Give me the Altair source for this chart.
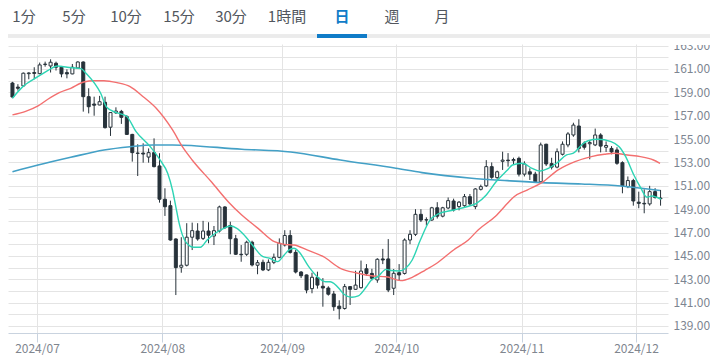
import altair as alt
import pandas as pd

# ---- daily candles (trading-day index 0 = 2024-06-24) ----
opens = [159.8,159.45,159.55,160.6,160.7,160.6,161.38,161.26,161.49,161.15,160.69,160.58,161.09,161.6,158.63,158.0,157.92,158.15,156.02,157.25,
         157.37,156.92,155.4,153.8,153.8,153.46,153.84,152.7,149.85,149.3,146.45,144.03,144.2,146.6,147.13,146.5,147.13,146.7,147.13,149.19,
         147.6,146.47,145.14,145.14,146.17,144.2,144.45,143.8,144.45,144.88,145.93,146.75,145.3,143.62,143.37,142.2,143.15,142.4,142.25,141.74,
         140.7,140.5,142.37,142.14,142.28,143.9,143.5,142.94,144.74,144.74,142.23,143.56,143.5,146.36,146.85,148.56,148.07,148.07,149.12,148.4,
         149.1,149.7,149.22,149.3,150.07,149.22,150.7,151.0,152.64,151.7,153.1,153.2,153.15,153.35,152.0,152.2,152.0,151.35,154.56,152.9,
         152.6,153.7,154.5,155.35,156.12,154.65,154.6,154.5,155.35,154.3,154.2,154.07,152.98,150.93,151.45,149.6,149.5,149.45,150.5,149.95]
highs = [159.9,159.7,160.7,160.72,161.15,161.55,161.63,161.83,161.63,161.26,160.97,161.43,161.66,161.65,159.35,158.63,158.7,158.63,157.3,157.72,
         157.5,157.05,155.45,154.56,154.64,154.2,155.06,153.79,150.79,149.73,146.5,146.6,147.8,147.85,147.8,148.0,147.88,147.56,149.3,149.25,
         147.93,146.8,145.93,146.3,146.3,144.65,144.68,144.7,145.2,146.5,147.2,147.2,145.5,143.7,143.4,143.56,143.65,143.1,142.4,142.0,
         141.2,142.6,142.42,143.73,144.6,144.3,143.9,144.8,145.6,146.44,143.88,144.3,146.5,147.2,149.0,149.0,148.3,149.2,149.6,149.2,
         150.0,149.9,149.7,150.3,150.3,150.8,151.1,153.2,153.0,152.3,153.92,153.8,153.41,153.5,153.1,152.5,152.2,154.7,154.6,153.4,
         154.2,154.8,155.6,156.4,156.7,154.8,154.9,155.9,155.5,154.8,154.4,154.3,153.1,151.8,151.6,150.5,150.7,151.0,150.8,150.65]
lows = [158.5,159.15,159.5,160.12,160.12,160.55,161.2,160.7,160.87,160.29,160.2,160.55,161.05,157.35,157.2,157.0,157.9,155.9,155.27,157.15,
        156.3,155.35,153.07,151.84,152.98,152.98,152.58,149.56,148.42,146.3,141.65,143.56,144.1,145.5,146.3,146.36,146.08,145.93,147.0,147.3,
        145.14,145.08,144.5,145.0,144.1,143.43,143.7,143.7,144.3,144.8,145.8,145.2,143.5,143.1,141.8,141.8,142.2,140.65,141.6,140.3,
        139.57,140.4,140.8,142.1,142.2,143.3,142.9,142.7,144.3,141.9,141.65,142.9,143.4,146.0,146.7,147.9,147.6,148.0,148.2,148.3,
        149.0,148.8,148.9,149.2,149.3,149.0,150.6,150.9,151.6,151.6,152.36,152.64,152.78,151.8,151.8,151.5,151.3,151.3,152.7,152.4,
        152.5,153.6,154.3,155.2,153.86,154.1,153.27,154.4,153.86,153.9,153.7,152.8,150.36,150.8,149.3,149.08,148.65,149.3,149.9,149.3]
closes = [158.6,159.35,160.64,160.66,160.62,161.35,161.42,161.58,161.15,160.58,160.58,161.15,161.6,158.63,157.77,157.9,158.2,155.98,157.27,157.4,
          156.86,155.4,153.84,153.78,153.72,153.84,152.64,149.85,149.21,146.36,144.0,144.2,146.6,147.16,146.45,147.13,146.77,147.16,149.19,147.42,
          146.47,145.14,145.1,146.17,144.22,144.42,143.8,144.45,144.88,146.08,146.75,145.3,143.62,143.3,142.08,143.17,142.5,142.25,141.72,140.65,
          140.48,142.37,142.14,142.5,143.7,143.5,143.08,144.71,144.65,142.08,143.51,143.37,146.36,146.85,148.56,148.07,148.1,149.12,148.4,149.12,
          149.73,148.93,149.6,150.07,149.45,150.73,150.93,152.64,151.73,152.2,153.2,153.15,153.25,152.0,152.87,152.0,151.35,154.5,152.87,152.6,
          153.92,154.56,155.44,156.2,154.2,154.3,154.7,155.35,154.4,154.45,153.9,152.93,151.0,151.45,149.7,149.5,149.45,150.5,150.0,149.9]

# ---- moving averages (index, value) ----
ma_short_idx = [0,1.9,4.65,6.46,8.26,10.07,12.6,13.5,16.2,17.3,19.1,20.9,22.7,25.3,27.1,28.5,29.4,30.0,30.6,31.2,32.0,33.3,34.5,35.75,37.25,
                38.8,40.0,41.2,42.7,44.2,46.0,47.2,48.7,49.9,50.8,51.7,52.6,54.4,55.95,57.45,58.35,60.2,60.8,62.3,63.5,65.0,65.9,67.1,68.6,69.5,
                71.0,72.2,73.4,74.9,76.7,78.2,81.0,83.4,85.2,87.0,88.8,90.9,91.8,93.6,95.4,96.9,98.4,99.9,101.75,103.0,104.5,105.7,107.5,109.9,
                111.4,112.6,114.1,115.3,116.5,117.4,118.3,119.1]
ma_short_val = [158.5,159.49,160.34,160.86,161.26,161.15,161.03,160.64,158.92,157.72,157.26,156.98,155.64,154.35,153.21,152.07,150.6,149.2,147.8,146.8,
                146.08,145.74,145.74,146.36,146.94,147.36,147.56,147.36,146.71,145.85,144.93,144.8,144.51,145.08,145.51,145.65,145.36,144.08,143.22,142.79,
                142.79,142.08,141.74,141.46,141.57,142.36,142.94,143.22,143.85,143.75,143.71,143.94,144.65,146.36,148.08,148.59,148.93,149.21,149.5,150.22,
                151.35,152.36,152.78,152.93,152.5,152.27,152.5,152.93,153.64,153.79,154.5,154.86,154.98,154.78,154.35,153.5,151.93,150.88,150.02,150.13,
                150.02,149.85]
ma_mid_idx = [0,2.3,4.7,6.5,8.6,10.7,13.1,15.0,16.8,19.2,21.6,24.0,26.4,29.4,31.2,33.0,36.6,39.7,42.1,45.1,48.1,49.9,51.7,54.1,57.1,60.2,
              63.2,66.2,68.6,71.3,73.4,75.8,77.7,81.0,83.7,85.5,88.7,90.9,92.1,94.5,97.2,100.2,103.3,106.3,108.7,110.5,112.9,115.3,117.7,118.9]
ma_mid_val = [157.07,157.35,157.84,158.41,158.97,159.35,159.89,160.0,160.0,159.83,159.49,158.63,157.64,155.78,154.35,153.21,151.3,149.6,148.5,147.36,
              146.22,145.99,145.93,145.51,144.93,143.94,143.54,143.28,143.22,142.88,143.17,143.79,144.31,145.51,146.36,147.22,148.4,149.5,150.07,150.64,
              151.27,152.36,153.07,153.5,153.7,153.79,153.64,153.5,153.21,152.93]
ma_long_idx = [0,4.7,10.7,16.8,21.6,25.8,29.4,42.1,51.1,60.2,70.4,75.2,84.3,90.9,97.2,104.5,111.7,118.9]
ma_long_val = [152.21,152.78,153.44,154.07,154.35,154.5,154.5,154.13,153.9,153.21,152.5,152.13,151.65,151.44,151.27,151.16,150.99,150.6]

# ---- axes ----
month_pos = [4.5, 27.5, 49.5, 70.5, 93.5, 114.5]
month_labels = ["2024/07", "2024/08", "2024/09", "2024/10", "2024/11", "2024/12"]
y_ticks = list(range(139, 164))

# ---- tab bar ----
tabs = ["1分", "5分", "10分", "15分", "30分", "1時間", "日", "週", "月"]
tab_x = [16, 66, 118, 171, 223, 279, 334, 384, 434]
selected = "日"

DARK = "#27323a"
FONT = "Noto Sans CJK JP"

df = pd.DataFrame({"idx": range(len(opens)), "open": opens, "high": highs, "low": lows, "close": closes})
df["blo"] = df[["open", "close"]].min(axis=1)
df["bhi"] = df[["open", "close"]].max(axis=1)
up = df[df["close"] >= df["open"]]
down = df[df["close"] < df["open"]]

xscale = alt.Scale(domain=[0.1, 119.45], nice=False, zero=False)
yscale = alt.Scale(domain=[138.4, 163.14], nice=False, zero=False)
lab_js = "[" + ",".join(f"'{m}'" for m in month_labels) + "]"
pos_js = "[" + ",".join(str(p) for p in month_pos) + "]"
xaxis = alt.Axis(values=month_pos, labelExpr=f"{lab_js}[indexof({pos_js}, datum.value)]",
                 title=None, grid=True, gridColor="#e4e4e4", domainColor="#c9d3df", tickColor="#c9d3df",
                 tickSize=9, labelPadding=1, labelColor="#80868f", labelFontSize=12, labelFont=FONT,
                 labelFlush=False)
yaxis = alt.Axis(values=y_ticks, orient="right",
                 labelExpr="datum.value % 2 == 1 ? format(datum.value, '.2f') : ''",
                 title=None, grid=True, gridColor="#e4e4e4", ticks=False, domain=False,
                 labelPadding=5, labelColor="#7d8591", labelFontSize=12, labelFont=FONT)

X = alt.X("idx:Q", scale=xscale, axis=xaxis)

wicks = alt.Chart(df).mark_rule(color=DARK, strokeWidth=1, clip=True).encode(
    x=X, y=alt.Y("low:Q", scale=yscale, axis=yaxis), y2="high:Q")
bodies_up = alt.Chart(up).mark_bar(size=3, fill="white", stroke=DARK, strokeWidth=1, clip=True).encode(
    x=X, y=alt.Y("blo:Q", scale=yscale, axis=yaxis), y2="bhi:Q")
bodies_dn = alt.Chart(down).mark_bar(size=3, fill=DARK, stroke=DARK, strokeWidth=1, clip=True).encode(
    x=X, y=alt.Y("blo:Q", scale=yscale, axis=yaxis), y2="bhi:Q")

def ma_line(idx, val, color, width):
    d = pd.DataFrame({"idx": idx, "val": val})
    return alt.Chart(d).mark_line(color=color, strokeWidth=width, interpolate="monotone", clip=True).encode(
        x=X, y=alt.Y("val:Q", scale=yscale, axis=yaxis))

long_line = ma_line(ma_long_idx, ma_long_val, "#43a0c6", 1.6)
mid_line = ma_line(ma_mid_idx, ma_mid_val, "#f36f6f", 1.4)
short_line = ma_line(ma_short_idx, ma_short_val, "#2dd4b4", 1.4)

tab_df = pd.DataFrame({"label": tabs, "px": tab_x})
sel_x = tab_x[tabs.index(selected)]
TAB_Y = -27.5
tab_normal = alt.Chart(tab_df[tab_df["label"] != selected]).mark_text(
    font=FONT, fontSize=15, color="#52575e", baseline="middle", align="center").encode(
    x=alt.X("px:Q", scale=None), y=alt.value(TAB_Y), text="label:N")
tab_sel = alt.Chart(tab_df[tab_df["label"] == selected]).mark_text(
    font=FONT, fontSize=15, fontWeight="bold", color="#107cc8", baseline="middle", align="center").encode(
    x=alt.X("px:Q", scale=None), y=alt.value(TAB_Y), text="label:N")
tab_line = alt.Chart(tab_df).mark_rule(color="#ebebeb", strokeWidth=3).encode(
    x=alt.value(0), x2=alt.value(702), y=alt.value(-8))
tab_under = alt.Chart(tab_df).mark_rule(color="#107cc8", strokeWidth=3).encode(
    x=alt.value(sel_x - 25), x2=alt.value(sel_x + 25), y=alt.value(-8))
cover = alt.Chart(tab_df).mark_rect(color="white").encode(
    x=alt.value(662), x2=alt.value(702), y=alt.value(-6), y2=alt.value(1))

chart = alt.layer(
    wicks, bodies_up, bodies_dn, long_line, mid_line, short_line,
    cover, tab_line, tab_under, tab_normal, tab_sel,
).properties(
    width=660, height=289, autosize="none",
    padding={"left": 0, "top": 36, "right": 42, "bottom": 24},
).configure_view(stroke=None)

chart.save("out.html", embed_options={"renderer": "svg", "actions": False})
